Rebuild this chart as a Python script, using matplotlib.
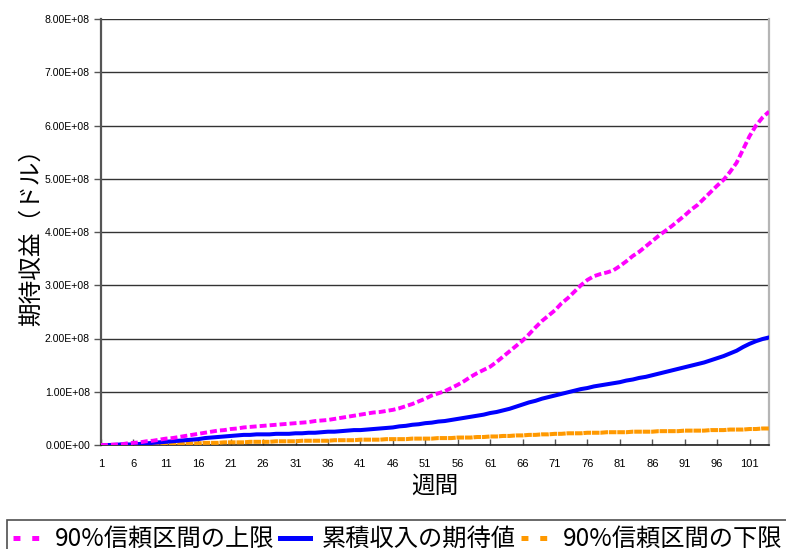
import matplotlib
matplotlib.use("Agg")
import matplotlib.pyplot as plt
from matplotlib.lines import Line2D
from matplotlib.ticker import FuncFormatter, FixedLocator
from matplotlib import font_manager
import numpy as np

plt.rcParams['lines.scale_dashes'] = False

# Weekly cumulative revenue (units of 1e8 USD)
weeks = list(range(1, 105))

upper_90 = [
    0.00, 0.00, 0.01, 0.01, 0.03, 0.04, 0.05, 0.07, 0.08, 0.10,
    0.12, 0.13, 0.15, 0.17, 0.19, 0.21, 0.23, 0.25, 0.27, 0.28,
    0.30, 0.31, 0.33, 0.34, 0.35, 0.36, 0.37, 0.38, 0.39, 0.40,
    0.41, 0.42, 0.43, 0.45, 0.46, 0.47, 0.49, 0.51, 0.53, 0.55,
    0.57, 0.59, 0.61, 0.62, 0.64, 0.66, 0.69, 0.73, 0.77, 0.82,
    0.87, 0.93, 0.97, 1.01, 1.07, 1.13, 1.20, 1.28, 1.35, 1.41,
    1.47, 1.56, 1.66, 1.76, 1.86, 1.96, 2.08, 2.21, 2.33, 2.43,
    2.53, 2.66, 2.76, 2.88, 3.00, 3.10, 3.17, 3.21, 3.24, 3.28,
    3.36, 3.45, 3.55, 3.63, 3.73, 3.83, 3.93, 4.02, 4.11, 4.21,
    4.31, 4.42, 4.51, 4.63, 4.75, 4.87, 4.98, 5.13, 5.30, 5.55,
    5.80, 6.00, 6.15, 6.26,
]

expected = [
    0.00, 0.00, 0.00, 0.01, 0.01, 0.01, 0.02, 0.03, 0.04, 0.05,
    0.06, 0.07, 0.08, 0.09, 0.10, 0.11, 0.13, 0.14, 0.15, 0.16,
    0.17, 0.18, 0.19, 0.19, 0.20, 0.20, 0.20, 0.21, 0.21, 0.21,
    0.22, 0.22, 0.23, 0.23, 0.24, 0.25, 0.25, 0.26, 0.27, 0.28,
    0.28, 0.29, 0.30, 0.31, 0.32, 0.33, 0.35, 0.36, 0.38, 0.39,
    0.41, 0.42, 0.44, 0.45, 0.47, 0.49, 0.51, 0.53, 0.55, 0.57,
    0.60, 0.62, 0.65, 0.68, 0.72, 0.76, 0.80, 0.83, 0.87, 0.90,
    0.93, 0.96, 0.99, 1.02, 1.05, 1.07, 1.10, 1.12, 1.14, 1.16,
    1.18, 1.21, 1.23, 1.26, 1.28, 1.31, 1.34, 1.37, 1.40, 1.43,
    1.46, 1.49, 1.52, 1.55, 1.59, 1.63, 1.67, 1.72, 1.77, 1.84,
    1.90, 1.95, 1.99, 2.02,
]

lower_90 = [
    0.00, 0.00, 0.00, 0.00, 0.00, 0.00, 0.01, 0.01, 0.01, 0.01,
    0.02, 0.02, 0.02, 0.03, 0.03, 0.03, 0.04, 0.04, 0.04, 0.05,
    0.05, 0.05, 0.05, 0.06, 0.06, 0.06, 0.06, 0.07, 0.07, 0.07,
    0.07, 0.08, 0.08, 0.08, 0.08, 0.08, 0.09, 0.09, 0.09, 0.09,
    0.10, 0.10, 0.10, 0.10, 0.11, 0.11, 0.11, 0.11, 0.12, 0.12,
    0.12, 0.12, 0.13, 0.13, 0.13, 0.14, 0.14, 0.14, 0.15, 0.15,
    0.16, 0.16, 0.17, 0.17, 0.18, 0.18, 0.19, 0.19, 0.20, 0.20,
    0.21, 0.21, 0.22, 0.22, 0.22, 0.23, 0.23, 0.23, 0.24, 0.24,
    0.24, 0.24, 0.25, 0.25, 0.25, 0.25, 0.26, 0.26, 0.26, 0.26,
    0.27, 0.27, 0.27, 0.27, 0.28, 0.28, 0.28, 0.29, 0.29, 0.29,
    0.30, 0.30, 0.31, 0.31,
]

UNIT = 1e8
y_ticks = [0, 1, 2, 3, 4, 5, 6, 7, 8]
x_tick_weeks = [1, 6, 11, 16, 21, 26, 31, 36, 41, 46, 51, 56, 61, 66, 71, 76, 81, 86, 91, 96, 101]

series_labels = ["90%信頼区間の上限", "累積収入の期待値", "90%信頼区間の下限"]
MAGENTA = "#FF00FF"
BLUE = "#0000FF"
ORANGE = "#FF9900"

CJK = ["Noto Sans CJK JP", "DejaVu Sans"]


def pick_font(names):
    for n in names:
        try:
            font_manager.findfont(n, fallback_to_default=False)
            return n
        except Exception:
            continue
    return "DejaVu Sans"


TICK_FONT = pick_font(["Liberation Sans Narrow", "Liberation Sans", "DejaVu Sans"])

W, H = 786, 549
fig = plt.figure(figsize=(W / 100, H / 100), dpi=100)
ax = fig.add_axes([101 / W, 104 / H, 668 / W, 426 / H])

x = np.array(weeks)
ax.plot(x, np.array(lower_90) * UNIT, color=ORANGE, lw=2.9, dashes=(5.5, 0.6),
        solid_capstyle="butt", zorder=3)
ax.plot(x, np.array(expected) * UNIT, color=BLUE, lw=2.9, zorder=4)
ax.plot(x, np.array(upper_90) * UNIT, color=MAGENTA, lw=2.8, dashes=(5.0, 2.2), zorder=5)

ax.set_xlim(weeks[0], weeks[-1])
ax.set_ylim(0, 8 * UNIT)

ax.yaxis.set_major_locator(FixedLocator([v * UNIT for v in y_ticks]))
ax.yaxis.set_major_formatter(FuncFormatter(lambda v, p: f"{v:.2E}"))
ax.xaxis.set_major_locator(FixedLocator(x_tick_weeks))
ax.xaxis.set_major_formatter(FuncFormatter(lambda v, p: f"{int(round(v))}"))

ax.grid(axis="y", color="#333333", lw=1.0)
ax.set_axisbelow(True)

for lab in ax.get_yticklabels():
    lab.set_fontfamily(TICK_FONT)
    lab.set_fontsize(7.6)
for lab in ax.get_xticklabels():
    lab.set_fontfamily(TICK_FONT)
    lab.set_fontsize(8)
ax.tick_params(axis="y", direction="out", length=5, width=1, color="#555555", pad=3)
ax.tick_params(axis="x", direction="in", length=4, width=1, color="#555555", pad=10)

ax.spines["top"].set_visible(False)
ax.spines["left"].set_color("#555555")
ax.spines["left"].set_linewidth(1.6)
ax.spines["bottom"].set_color("#222222")
ax.spines["bottom"].set_linewidth(1.2)
ax.spines["right"].set_color("#b5b5b5")
ax.spines["right"].set_linewidth(1.6)

ax.set_ylabel("期待収益（ドル）", family=CJK, fontsize=17)
ax.yaxis.set_label_coords(-0.087, 0.5)
ax.set_xlabel("週間", family=CJK, fontsize=17, labelpad=4)

handles = [
    Line2D([], [], color=MAGENTA, lw=3.6, dashes=(5.0, 8.5)),
    Line2D([], [], color=BLUE, lw=3.6),
    Line2D([], [], color=ORANGE, lw=3.6, dashes=(5.0, 8.5)),
]
leg = fig.legend(handles, series_labels, loc="upper left",
                 bbox_to_anchor=(7 / W, 1 - 520 / H), bbox_transform=fig.transFigure,
                 ncol=3, prop={"family": CJK, "size": 17.5}, frameon=True, fancybox=False,
                 edgecolor="#222222", borderpad=0.25, handlelength=1.25, handletextpad=0.45,
                 columnspacing=0.25, borderaxespad=0)
leg.get_frame().set_linewidth(1.2)

fig.savefig("out.png", dpi=100)
